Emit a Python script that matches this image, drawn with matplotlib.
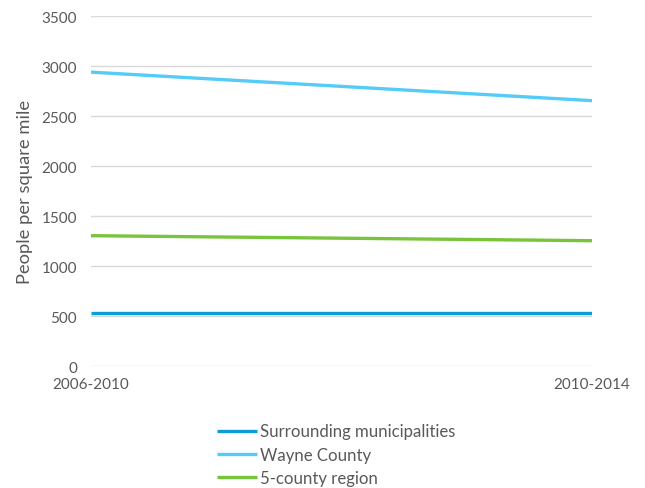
import matplotlib.pyplot as plt

# datos
periodos = ["2006-2010", "2010-2014"]
surrounding = [530, 530]
wayne = [2940, 2655]
region5 = [1305, 1255]
series = ["Surrounding municipalities", "Wayne County", "5-county region"]
colores = ["#0E9CD8", "#55CCF7", "#78C43C"]

plt.rcParams['font.family'] = ['Lato', 'DejaVu Sans']
gris = "#595959"

fig = plt.figure(figsize=(6.45, 4.89), dpi=100)
ax = fig.add_axes([0.141, 0.249, 0.777, 0.716])

x = range(len(periodos))
for valores, nombre, c in zip([surrounding, wayne, region5], series, colores):
    ax.plot(x, valores, color=c, lw=2.4, label=nombre, solid_capstyle='butt')

ax.set_xlim(0, 1)
ax.set_ylim(0, 3500)
ax.set_yticks(range(0, 3501, 500))
ax.set_xticks(list(x))
ax.set_xticklabels(periodos)
ax.grid(axis='y', color='#D9D9D9', lw=1)
ax.set_axisbelow(True)
for s in ax.spines.values():
    s.set_visible(False)
ax.tick_params(length=0, labelsize=11, labelcolor=gris)
ax.tick_params(axis='x', pad=8)
ax.tick_params(axis='y', pad=10)
ax.set_ylabel("People per square mile", fontsize=13.2, color=gris, labelpad=6)

fig.legend(loc='upper left', bbox_to_anchor=(0.336, 0.132), frameon=False,
           fontsize=12.1, labelcolor=gris, handlelength=2.4, handletextpad=0.2,
           labelspacing=0.43, borderpad=0, borderaxespad=0)

fig.savefig("out.png", dpi=100)
